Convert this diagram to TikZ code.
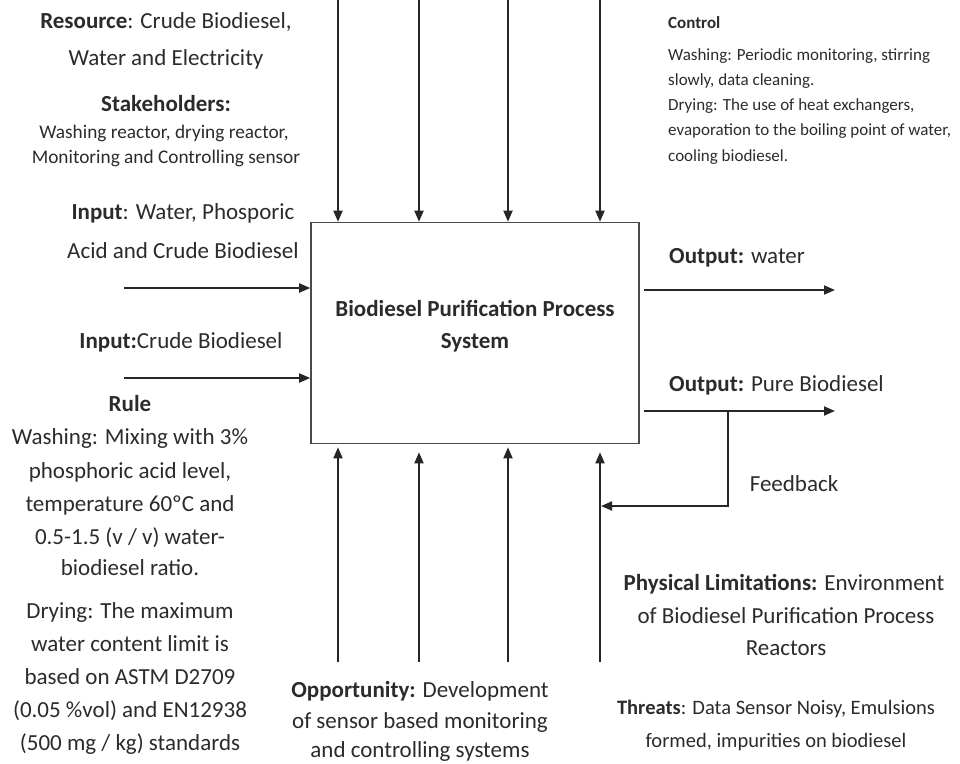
\documentclass[tikz,border=0pt]{standalone}
\usepackage{fontspec}
\setmainfont{Carlito}
\usetikzlibrary{arrows.meta}
\definecolor{ink}{HTML}{262626}
\definecolor{boxc}{HTML}{4a4a4a}
\definecolor{txt}{HTML}{2b2b2b}
\begin{document}
\begin{tikzpicture}[x=1pt,y=-1pt,
  conn/.style={draw=ink,line width=1.8pt,-{Triangle[length=11pt,width=9pt]}},
  lbl/.style={text=txt,font=\fontsize{23}{26}\selectfont,inner sep=0pt,anchor=base},
  lblw/.style={lbl,anchor=base west},
  thr/.style={text=txt,font=\fontsize{20.5}{24}\selectfont,inner sep=0pt,anchor=base},
  sml/.style={text=txt,font=\fontsize{19.3}{22}\selectfont,inner sep=0pt,anchor=base},
  smlw/.style={text=txt,font=\fontsize{17}{20}\selectfont,inner sep=0pt,anchor=base west},
  procbox/.style={draw=boxc,line width=1.6pt,minimum width=328pt,minimum height=221pt,inner sep=0pt}]
\useasboundingbox (0,0) rectangle (960,763);

% main box
\node[procbox] (sys) at (475,333) {};
\node[lbl,font=\fontsize{23}{26}\selectfont\bfseries] (title1) at (475,316) {Biodiesel Purification Process};
\node[lbl,font=\fontsize{23}{26}\selectfont\bfseries] (title2) at (475,348) {System};

% top arrows
\foreach \i/\x in {1/338,2/419,3/508,4/600}{
  \coordinate (t\i) at (\x,0);
  \draw[conn] (t\i) -- (t\i |- sys.north);
}
% bottom arrows
\foreach \i/\x/\g in {1/338/3,2/419/8,3/508/3,4/600/8}{
  \coordinate (b\i) at (\x,662);
  \draw[conn] (b\i) -- ([yshift=-\g pt]b\i |- sys.south);
}
% inputs
\coordinate (in1) at (124,288);
\coordinate (in2) at (124,378);
\draw[conn] (in1) -- (in1 -| sys.west);
\draw[conn] (in2) -- (in2 -| sys.west);
% outputs
\coordinate (o1s) at (644,290);
\coordinate (o1e) at (835,290);
\coordinate (o2s) at (644,411);
\coordinate (o2e) at (835,411);
\draw[conn] (o1s) -- (o1e);
\draw[conn] (o2s) -- (o2e);
% feedback
\coordinate (fb) at (728,411);
\coordinate (fbc) at (728,506);
\draw[conn] (fb) -- (fbc) -- ([xshift=1pt]b4 |- fbc);

% Resource / Stakeholders
\node[lbl] (res1) at (166,28) {\textbf{Resource}: Crude Biodiesel,};
\node[lbl] (res2) at (166,65) {Water and Electricity};
\node[lbl] (stk) at (166,111) {\textbf{Stakeholders:}};
\node[sml] (stk1) at (164,138) {Washing reactor, drying reactor,};
\node[sml] (stk2) at (166,163) {Monitoring and Controlling sensor};

% Control
\node[smlw] (ctl0) at (668,28) {\textbf{Control}};
\node[smlw] (ctl1) at (668,60) {Washing: Periodic monitoring, stirring};
\node[smlw] (ctl2) at (668,85) {slowly, data cleaning.};
\node[smlw] (ctl3) at (668,110) {Drying: The use of heat exchangers,};
\node[smlw] (ctl4) at (668,135) {evaporation to the boiling point of water,};
\node[smlw] (ctl5) at (668,161) {cooling biodiesel.};

% Inputs text
\node[lbl] (inp1a) at (183,219) {\textbf{Input}: Water, Phosporic};
\node[lbl] (inp1b) at (183,258) {Acid and Crude Biodiesel};
\node[lbl] (inp2) at (181,348) {\textbf{Input:}Crude Biodiesel};

% Rule
\node[lbl] (rule) at (130,411) {\textbf{Rule}};
\node[lbl] (r1) at (130,444) {Washing: Mixing with 3\%};
\node[lbl] (r2) at (130,478) {phosphoric acid level,};
\node[lbl] (r3) at (130,511) {temperature 60ºC and};
\node[lbl] (r4) at (130,544) {0.5-1.5 (v / v) water-};
\node[lbl] (r5) at (130,575) {biodiesel ratio.};
\node[lbl] (r6) at (130,618) {Drying: The maximum};
\node[lbl] (r7) at (130,651) {water content limit is};
\node[lbl] (r8) at (130,684) {based on ASTM D2709};
\node[lbl] (r9) at (130,717) {(0.05 \%vol) and EN12938};
\node[lbl] (r10) at (130,750) {(500 mg / kg) standards};

% Outputs text
\node[lblw] (out1) at (669,263) {\textbf{Output:} water};
\node[lblw] (out2) at (669,391) {\textbf{Output:} Pure Biodiesel};
\node[lbl] (fbl) at (794,491) {Feedback};

% Physical limitations
\node[lbl] (ph1) at (784,590) {\textbf{Physical Limitations:} Environment};
\node[lbl] (ph2) at (786,623) {of Biodiesel Purification Process};
\node[lbl] (ph3) at (786,655) {Reactors};

% Opportunity
\node[lbl] (op1) at (420,697) {\textbf{Opportunity:} Development};
\node[lbl] (op2) at (420,728) {of sensor based monitoring};
\node[lbl] (op3) at (420,757) {and controlling systems};

% Threats
\node[thr] (th1) at (776,714) {\textbf{Threats}: Data Sensor Noisy, Emulsions};
\node[thr] (th2) at (776,747) {formed, impurities on biodiesel};
\end{tikzpicture}
\end{document}
